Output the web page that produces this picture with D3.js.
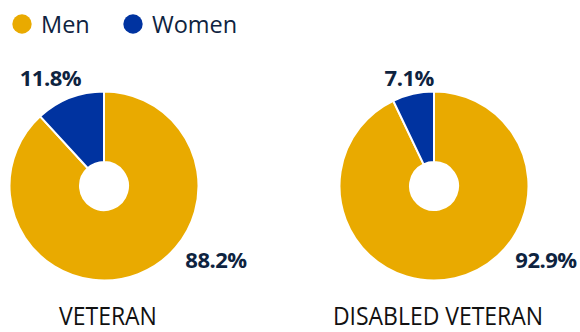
<!DOCTYPE html>
<html>
<head>
<meta charset="utf-8">
<script src="https://cdn.jsdelivr.net/npm/d3@7"></script>
<style>
  html, body { margin: 0; padding: 0; background: #fff; }
  svg { display: block; }
  text { font-family: "Open Sans", "Noto Sans", sans-serif; fill: #0e2340; }
  text.group-name { fill: #111; }
</style>
</head>
<body>
<svg id="chart" width="580" height="332"></svg>
<script>
// Gender split of veterans and disabled veterans (percent)
const groups = ["VETERAN", "DISABLED VETERAN"];
const genders = ["Men", "Women"];
const menShare = [88.2, 92.9];
const womenShare = [11.8, 7.1];

const colors = { Men: "#e9aa00", Women: "#0033a0" };

const svg = d3.select("#chart");

// Layout
const centersX = [104, 434];
const centerY = 186;
const outerR = 94.5;
const innerR = 24;
const condense = 0.9; // horizontal squeeze for the group names

const color = d3.scaleOrdinal().domain(genders).range([colors.Men, colors.Women]);

// Legend
const legend = svg.append("g").attr("class", "legend");
const legendX = [22, 133];
genders.forEach((g, i) => {
  const item = legend.append("g").attr("transform", `translate(${legendX[i]},24)`);
  item.append("circle").attr("r", 9.7).attr("fill", color(g));
  item.append("text")
    .attr("x", 19)
    .attr("y", 8.7)
    .attr("font-size", 23.5)
    .text(g);
});

const pie = d3.pie().sort(null).value(d => d.value);
const arc = d3.arc().innerRadius(innerR).outerRadius(outerR);

groups.forEach((name, i) => {
  const data = [
    { key: "Men", value: menShare[i] },
    { key: "Women", value: womenShare[i] }
  ];
  const arcs = pie(data);
  const g = svg.append("g").attr("transform", `translate(${centersX[i]},${centerY})`);

  g.selectAll("path")
    .data(arcs)
    .join("path")
    .attr("d", arc)
    .attr("fill", d => color(d.data.key))
    .attr("stroke", "#fff")
    .attr("stroke-width", 2)
    .attr("stroke-linejoin", "round");

  // Women share label sits above the small slice, men share label at lower right
  const womenArc = arcs[1];
  const mid = (womenArc.startAngle + womenArc.endAngle) / 2;
  const lr = 112;
  g.append("text")
    .attr("x", Math.sin(mid) * lr - (i === 0 ? 13 : 0))
    .attr("y", -100)
    .attr("text-anchor", "middle")
    .attr("font-size", 22)
    .attr("font-weight", 700)
    .attr("letter-spacing", -0.5)
    .text(d3.format(".1f")(womenShare[i]) + "%");

  g.append("text")
    .attr("x", 112)
    .attr("y", 82)
    .attr("text-anchor", "middle")
    .attr("font-size", 22)
    .attr("font-weight", 700)
    .attr("letter-spacing", -0.5)
    .text(d3.format(".1f")(menShare[i]) + "%");

  const label = svg.append("text")
    .attr("class", "group-name")
    .attr("x", centersX[i] + 4)
    .attr("y", 325)
    .attr("text-anchor", "middle")
    .attr("font-size", 25.5)
    .text(name);
  const natural = label.node().getComputedTextLength();
  label.attr("textLength", natural * condense).attr("lengthAdjust", "spacingAndGlyphs");
});
</script>
</body>
</html>
